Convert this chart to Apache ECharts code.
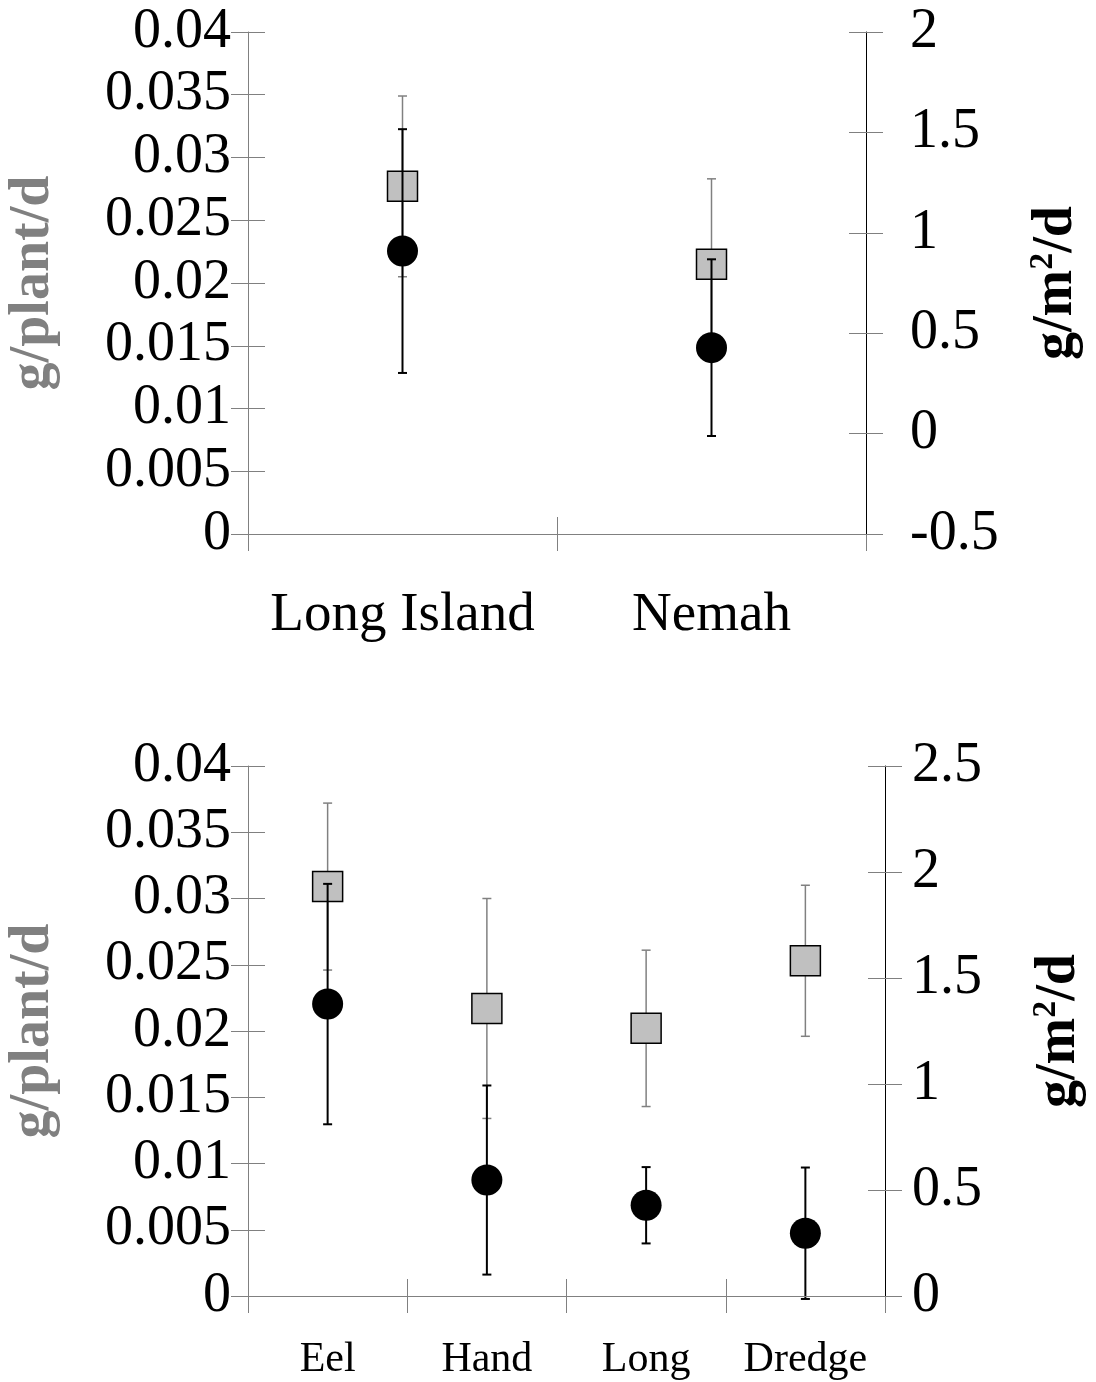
<!DOCTYPE html>
<html>
<head>
<meta charset="utf-8">
<script src="https://cdn.jsdelivr.net/npm/echarts@6/dist/echarts.min.js"></script>
<style>
html,body{margin:0;padding:0;background:#fff;}
#chart{width:1096px;height:1382px;}
</style>
</head>
<body>
<div id="chart"></div>
<script>
// ---- data ----
const sitesTop = ['Long Island', 'Nemah'];
const plantTop = [0.0277, 0.0215];
const plantTopErr = [0.0072, 0.0068];
const areaTop = [0.909, 0.428];
const areaTopErr = [0.607, 0.44];

const sitesBottom = ['Eel', 'Hand', 'Long', 'Dredge'];
const plantBottom = [0.0309, 0.0217, 0.0202, 0.0253];
const plantBottomErr = [0.0063, 0.0083, 0.0059, 0.0057];
const areaBottom = [1.377, 0.547, 0.428, 0.296];
const areaBottomErr = [0.567, 0.446, 0.18, 0.31];

const leftTicks = {min: 0, max: 0.04, interval: 0.005};
const rightTicksTop = {min: -0.5, max: 2, interval: 0.5};
const rightTicksBottom = {min: 0, max: 2.5, interval: 0.5};

// ---- styles ----
const FONT = '"Liberation Serif", "Times New Roman", serif';
const GRAY = '#808080';
const TICK_FONT = 56;
const chart = echarts.init(document.getElementById('chart'));

function errData(vals, errs) {
  return vals.map((v, i) => [i, v - errs[i], v + errs[i]]);
}
function errRender(color, width, cap) {
  return function (params, api) {
    const x = api.value(0);
    const lo = api.coord([x, api.value(1)]);
    const hi = api.coord([x, api.value(2)]);
    const st = {stroke: color, lineWidth: width};
    return {
      type: 'group',
      children: [
        {type: 'line', shape: {x1: hi[0], y1: hi[1], x2: lo[0], y2: lo[1]}, style: st},
        {type: 'line', shape: {x1: hi[0] - cap, y1: hi[1], x2: hi[0] + cap, y2: hi[1]}, style: st},
        {type: 'line', shape: {x1: lo[0] - cap, y1: lo[1], x2: lo[0] + cap, y2: lo[1]}, style: st}
      ]
    };
  };
}

function xAxes(grid, cats, fontSize, margin) {
  return [
    {gridIndex: grid, type: 'category', data: cats, position: 'bottom', z: 5,
      axisLine: {onZero: false, lineStyle: {color: GRAY, width: 1}},
      axisTick: {show: true, interval: 0, length: 17, lineStyle: {color: GRAY}},
      axisLabel: {interval: 0, fontFamily: FONT, fontSize: fontSize, color: '#000', margin: margin},
      splitLine: {show: false}},
    {gridIndex: grid, type: 'category', data: cats, position: 'bottom', z: 5,
      axisLine: {show: false, onZero: false},
      axisTick: {show: true, interval: 0, inside: true, length: 17, lineStyle: {color: GRAY}},
      axisLabel: {show: false}, splitLine: {show: false}}
  ];
}

function yAxes(grid, rt, rightGap, rightMargin) {
  const tickStyle = {length: 17, lineStyle: {color: GRAY}};
  const lbl = {fontFamily: FONT, fontSize: TICK_FONT, color: '#000'};
  return [
    Object.assign({gridIndex: grid, type: 'value', position: 'left',
      name: 'g/plant/d', nameLocation: 'middle', nameRotate: 90, nameGap: 186,
      nameTextStyle: {fontFamily: FONT, fontSize: 56, fontWeight: 'bold', color: GRAY},
      axisLine: {show: true, onZero: false, lineStyle: {color: GRAY}},
      axisTick: Object.assign({show: true}, tickStyle),
      axisLabel: Object.assign({margin: 17}, lbl),
      splitLine: {show: false}}, leftTicks),
    Object.assign({gridIndex: grid, type: 'value', position: 'left',
      axisLine: {show: false, onZero: false},
      axisTick: Object.assign({show: true, inside: true}, tickStyle),
      axisLabel: {show: false}, splitLine: {show: false}}, leftTicks),
    Object.assign({gridIndex: grid, type: 'value', position: 'right', z: 6,
      name: '{a|g/m}{b|2}{a|/d}', nameLocation: 'middle', nameRotate: 90, nameGap: rightGap,
      nameTextStyle: {
        rich: {
          a: {fontFamily: FONT, fontSize: 56, fontWeight: 'bold', color: '#000', lineHeight: 62},
          b: {fontFamily: FONT, fontSize: 34, fontWeight: 'bold', color: '#000', verticalAlign: 'top', lineHeight: 62, padding: [0, 0, 16, 0]}
        }
      },
      axisLine: {show: true, onZero: false, lineStyle: {color: '#000'}},
      axisTick: Object.assign({show: true}, tickStyle),
      axisLabel: Object.assign({margin: rightMargin}, lbl),
      splitLine: {show: false}}, rt),
    Object.assign({gridIndex: grid, type: 'value', position: 'right',
      axisLine: {show: false, onZero: false},
      axisTick: Object.assign({show: true, inside: true}, tickStyle),
      axisLabel: {show: false}, splitLine: {show: false}}, rt)
  ];
}

function panelSeries(xi, yl, yr, plant, plantErr, area, areaErr) {
  return [
    {type: 'custom', xAxisIndex: xi, yAxisIndex: yl, z: 1, silent: true,
      renderItem: errRender(GRAY, 1.5, 4.5), encode: {x: 0, y: [1, 2]},
      data: errData(plant, plantErr)},
    {type: 'scatter', xAxisIndex: xi, yAxisIndex: yl, z: 2, symbol: 'rect', symbolSize: 30,
      itemStyle: {color: '#c0c0c0', borderColor: '#000', borderWidth: 1.5, opacity: 1},
      data: plant},
    {type: 'custom', xAxisIndex: xi, yAxisIndex: yr, z: 3, silent: true,
      renderItem: errRender('#000', 2, 4.5), encode: {x: 0, y: [1, 2]},
      data: errData(area, areaErr)},
    {type: 'scatter', xAxisIndex: xi, yAxisIndex: yr, z: 4, symbol: 'circle', symbolSize: 31,
      itemStyle: {color: '#000', opacity: 1},
      data: area}
  ];
}

const option = {
  animation: false,
  backgroundColor: '#fff',
  grid: [
    {left: 248, top: 32, width: 618, height: 502, outerBoundsMode: 'none', containLabel: false},
    {left: 248, top: 766, width: 637, height: 530, outerBoundsMode: 'none', containLabel: false}
  ],
  xAxis: [].concat(xAxes(0, sitesTop, 55, 54), xAxes(1, sitesBottom, 42, 43)),
  yAxis: [].concat(yAxes(0, rightTicksTop, 160, 44), yAxes(1, rightTicksBottom, 144, 27)),
  series: [].concat(
    panelSeries(0, 0, 2, plantTop, plantTopErr, areaTop, areaTopErr),
    panelSeries(2, 4, 6, plantBottom, plantBottomErr, areaBottom, areaBottomErr)
  )
};
chart.setOption(option);
</script>
</body>
</html>
